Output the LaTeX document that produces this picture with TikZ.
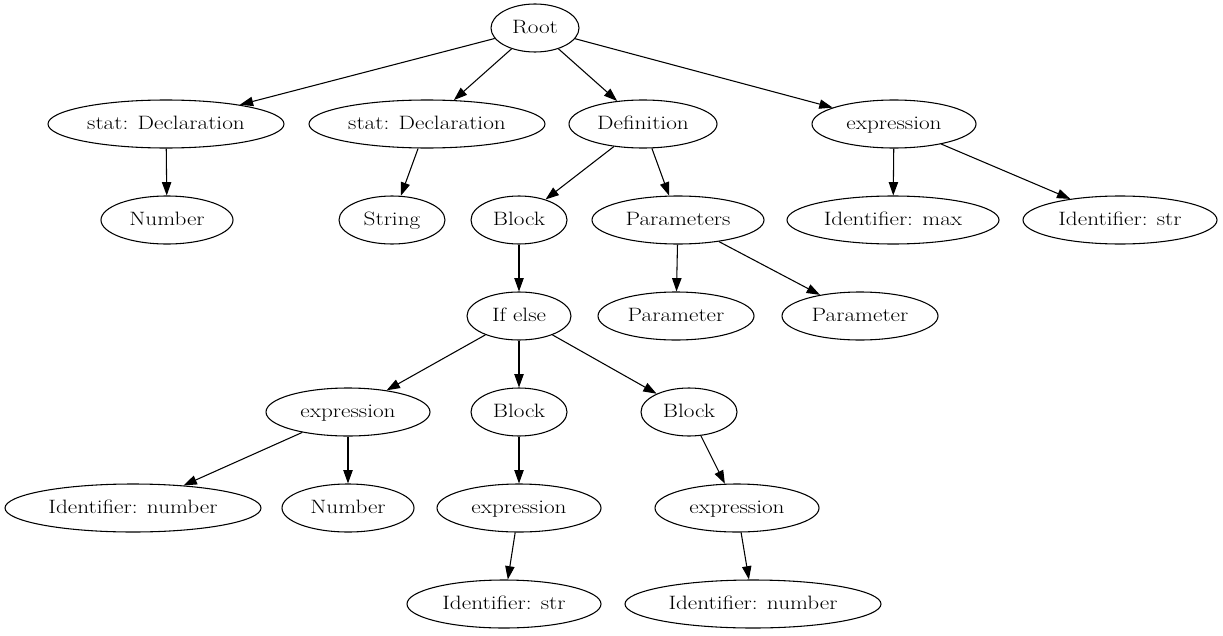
\documentclass[tikz,border=0pt]{standalone}
\usepackage{fontspec}
\setmainfont{Latin Modern Roman}[FakeStretch=1.2]
\usetikzlibrary{shapes.geometric,arrows.meta}
\begin{document}
\begin{tikzpicture}[x=0.75pt,y=-0.75pt,
  e/.style={ellipse,draw,line width=0.8pt,inner sep=0pt,minimum height=48*0.75pt,text height=10pt,text depth=2pt,font=\fontsize{14.5pt}{16pt}\selectfont},
  w/.style={minimum width=#1*0.75pt},
  edge/.style={-{Triangle[length=10pt,width=7pt]},line width=0.8pt}]
\useasboundingbox (0,0) rectangle (1223,635);
\node[e,w=88]  (root) at (535,28) {Root};
\node[e,w=236] (sd1) at (166,124) {stat: Declaration};
\node[e,w=236] (sd2) at (427,124) {stat: Declaration};
\node[e,w=148] (def) at (643,124) {Definition};
\node[e,w=164] (ex1) at (894,124) {expression};
\node[e,w=132] (num1) at (167,220) {Number};
\node[e,w=106] (str) at (392,220) {String};
\node[e,w=96]  (blk1) at (519,220) {Block};
\node[e,w=172] (pars) at (678,220) {Parameters};
\node[e,w=212] (idmax) at (893,220) {Identifier: max};
\node[e,w=194] (idstr1) at (1120,220) {Identifier: str};
\node[e,w=104] (ifelse) at (519,316) {If else};
\node[e,w=156] (par1) at (676,316) {Parameter};
\node[e,w=156] (par2) at (860,316) {Parameter};
\node[e,w=164] (ex2) at (348,412) {expression};
\node[e,w=96]  (blk2) at (519,412) {Block};
\node[e,w=96]  (blk3) at (689,412) {Block};
\node[e,w=256] (idnum1) at (133,508) {Identifier: number};
\node[e,w=132] (num2) at (348,508) {Number};
\node[e,w=164] (ex3) at (519,508) {expression};
\node[e,w=164] (ex4) at (737,508) {expression};
\node[e,w=194] (idstr2) at (504,604) {Identifier: str};
\node[e,w=256] (idnum2) at (753,604) {Identifier: number};
\foreach \a/\b in {root/sd1,root/sd2,root/def,root/ex1,sd1/num1,sd2/str,def/blk1,def/pars,
  ex1/idmax,ex1/idstr1,blk1/ifelse,pars/par1,pars/par2,ifelse/ex2,ifelse/blk2,ifelse/blk3,
  ex2/idnum1,ex2/num2,blk2/ex3,blk3/ex4,ex3/idstr2,ex4/idnum2}
  \draw[edge] (\a) -- (\b);
\end{tikzpicture}
\end{document}
